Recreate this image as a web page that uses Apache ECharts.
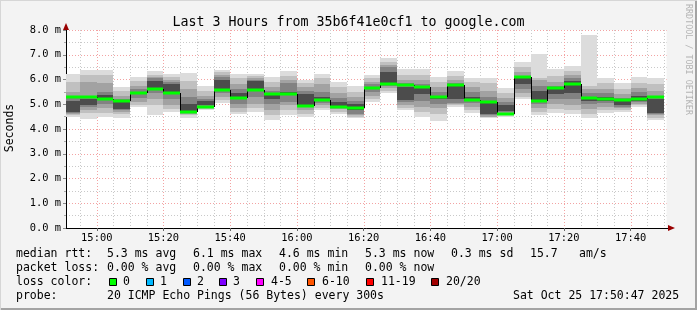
<!DOCTYPE html>
<html><head><meta charset="utf-8">
<script src="https://cdn.jsdelivr.net/npm/echarts@6/dist/echarts.min.js"></script>
<style>html,body{margin:0;padding:0;background:#f3f3f3}#c{width:697px;height:310px}</style>
</head><body><div id="c"></div>
<script>
// ---- data ----
const stepStarts = ["14:50","14:55","15:00","15:05","15:10","15:15","15:20","15:25","15:30","15:35","15:40","15:45",
  "15:50","15:55","16:00","16:05","16:10","16:15","16:20","16:25","16:30","16:35","16:40","16:45",
  "16:50","16:55","17:00","17:05","17:10","17:15","17:20","17:25","17:30","17:35","17:40","17:45"];
const medianRtt = [5.28,5.28,5.20,5.13,5.47,5.62,5.44,4.70,4.90,5.58,5.24,5.58,5.43,5.43,4.93,5.16,4.90,4.86,
  5.64,5.82,5.76,5.71,5.28,5.79,5.16,5.10,4.62,6.12,5.13,5.67,5.83,5.25,5.20,5.16,5.21,5.28];
// sorted ping samples per step (ms): min ... max
const smokePings = [
 [4.50,4.55,4.60,4.63,4.68,5.15,5.30,5.50,5.90,6.22],
 [4.39,4.63,4.75,4.90,4.95,5.22,5.35,5.90,6.18,6.38],
 [4.50,4.63,4.85,5.00,5.18,5.38,5.50,5.85,6.20,6.38],
 [4.43,4.60,4.70,4.78,4.82,5.10,5.20,5.35,5.55,5.68],
 [4.90,4.97,5.10,5.25,5.40,5.50,5.60,5.75,5.95,6.11],
 [4.57,4.95,5.20,5.45,5.65,5.95,6.05,6.10,6.20,6.33],
 [4.70,4.80,4.95,5.20,5.50,5.80,5.90,6.00,6.10,6.22],
 [4.43,4.55,4.62,4.68,4.72,5.00,5.30,5.60,5.95,6.27],
 [4.77,4.82,4.86,4.90,4.95,5.12,5.20,5.35,5.55,5.74],
 [5.05,5.17,5.30,5.45,5.62,6.00,6.10,6.20,6.30,6.38],
 [4.60,4.70,4.85,5.00,5.20,5.45,5.60,5.80,6.05,6.22],
 [4.70,4.85,5.00,5.30,5.60,5.95,6.00,6.07,6.15,6.22],
 [4.36,4.55,4.75,5.00,5.20,5.42,5.55,5.70,5.90,6.09],
 [4.57,4.75,4.95,5.10,5.40,5.48,5.85,6.00,6.15,6.33],
 [4.50,4.60,4.75,4.88,4.95,5.40,5.55,5.70,5.85,6.00],
 [4.77,4.85,4.95,5.05,5.15,5.30,5.50,5.80,6.05,6.22],
 [4.60,4.70,4.80,4.88,4.92,5.10,5.25,5.45,5.70,5.91],
 [4.43,4.50,4.55,4.60,4.75,5.00,5.15,5.30,5.50,5.74],
 [5.10,5.20,5.35,5.50,5.60,5.70,5.80,5.90,6.05,6.18],
 [5.44,5.55,5.65,5.75,5.85,6.30,6.50,6.60,6.70,6.86],
 [4.77,4.85,4.95,5.10,5.17,5.70,5.85,6.00,6.20,6.41],
 [4.50,4.70,4.90,5.15,5.40,5.68,5.80,6.00,6.20,6.41],
 [4.34,4.60,4.85,5.00,5.20,5.35,5.50,5.70,5.90,6.10],
 [4.90,4.95,5.00,5.05,5.20,5.75,5.85,6.00,6.15,6.35],
 [4.63,4.75,4.90,5.05,5.12,5.30,5.50,5.70,5.90,6.08],
 [4.43,4.47,4.50,4.55,4.60,5.05,5.30,5.55,5.85,6.08],
 [4.47,4.55,4.62,4.68,4.72,4.95,5.10,5.25,5.45,5.64],
 [5.20,5.30,5.45,5.60,5.80,6.05,6.15,6.30,6.50,6.72],
 [4.58,4.70,4.85,5.00,5.15,5.55,5.75,6.00,6.05,7.03],
 [4.66,4.80,5.00,5.20,5.40,5.62,5.75,5.90,6.15,6.41],
 [4.60,4.75,4.95,5.20,5.45,5.95,6.05,6.20,6.35,6.55],
 [4.43,4.60,4.80,5.00,5.15,5.30,5.45,5.60,5.75,7.80],
 [4.66,4.75,4.90,5.05,5.15,5.30,5.45,5.60,5.85,6.08],
 [4.70,4.78,4.85,4.90,4.95,5.12,5.25,5.40,5.60,5.87],
 [4.90,4.97,5.03,5.10,5.15,5.35,5.50,5.65,5.85,6.09],
 [4.36,4.45,4.55,4.60,4.65,5.20,5.35,5.55,5.80,6.05]
];
const xTickLabels = ["15:00","15:20","15:40","16:00","16:20","16:40","17:00","17:20","17:40"];
const yTicks = [0,1,2,3,4,5,6,7,8];
const rangeStart = "14:50:47", rangeEnd = "17:50:47";
const stepMinutes = 5;

// ---- helpers ----
function toMin(s){ const p=s.split(':').map(Number); return p[0]*60+p[1]+(p[2]||0)/60; }
const xMin = toMin(rangeStart), xMax = toMin(rangeEnd);
const tickVals = xTickLabels.map(toMin);
const bandColors = ['#dcdcdc','#c0c0c0','#a2a2a2','#828282','#4c4c4c'];

const smokeData = [];
stepStarts.forEach((s,i)=>{
  const t = toMin(s), p = smokePings[i];
  for (let k=0;k<5;k++) smokeData.push([t, t+stepMinutes, p[k], p[9-k], k]);
});
const medData = stepStarts.map((s,i)=>{
  const t=toMin(s); return [t, t+stepMinutes, medianRtt[i], i>0?medianRtt[i-1]:medianRtt[i]];
});
const gridData = [];
for (let t = Math.ceil(xMin/5)*5; t <= xMax; t += 5) gridData.push([t, (Math.round(t) % 20 === 0) ? 1 : 0]);

const chart = echarts.init(document.getElementById('c'), null, {renderer:'canvas'});
const mono = 'DejaVu Sans Mono';

function clampX(x, cs){ return Math.min(Math.max(x, cs.x), cs.x+cs.width); }

const option = {
  backgroundColor: '#f3f3f3',
  animation: false,
  title: { text: 'Last 3 Hours from 35b6f41e0cf1 to google.com', left: 'center', top: 11,
    textStyle: { fontFamily: mono, fontSize: 13.3, fontWeight: 'normal', color: '#000' } },
  grid: { left: 66, right: 30.4, top: 30, bottom: 82, show: true, backgroundColor: '#ffffff', borderWidth: 0 },
  xAxis: {
    type: 'value', min: xMin, max: xMax,
    axisLine: { show: true, lineStyle: { color: '#000', width: 1 } },
    axisTick: { show: true, customValues: tickVals, length: 3, lineStyle: { color: '#666' } },
    axisLabel: { customValues: tickVals, margin: 5, fontFamily: mono, fontSize: 10.4, color: '#000',
      formatter: v => xTickLabels[tickVals.findIndex(t=>Math.abs(t-v)<1e-6)] || '' },
    splitLine: { show: false }
  },
  yAxis: {
    type: 'value', min: 0, max: 8, interval: 1,
    axisLine: { show: true, lineStyle: { color: '#000', width: 1 } },
    axisTick: { show: true, length: 3, lineStyle: { color: '#888' } },
    minorTick: { show: true, splitNumber: 2, length: 2, lineStyle: { color: '#aaa' } },
    axisLabel: { margin: 5, fontFamily: mono, fontSize: 10.4, color: '#000', formatter: v => v.toFixed(1) + ' m' },
    splitLine: { show: true, lineStyle: { color: '#f3a3a3', type: [1,2], width: 1 } },
    minorSplitLine: { show: true, lineStyle: { color: '#c9c9c9', type: [1,2], width: 1 } }
  },
  series: [
    { type: 'custom', z: 1, silent: true, data: gridData, encode: { x: 0 },
      renderItem: (params, api) => {
        const cs = params.coordSys;
        const x = Math.round(api.coord([api.value(0), 0])[0]) + 0.5;
        const major = api.value(1) === 1;
        return { type: 'line', shape: { x1: x, y1: cs.y, x2: x, y2: cs.y + cs.height },
          style: { stroke: major ? '#f3a3a3' : '#c9c9c9', lineWidth: 1, lineDash: [1,2] } };
      } },
    { type: 'custom', z: 2, silent: true, data: smokeData, encode: { x: [0,1], y: [2,3] },
      renderItem: (params, api) => {
        const cs = params.coordSys;
        const x0 = Math.round(clampX(api.coord([api.value(0), 0])[0], cs));
        const x1 = Math.round(clampX(api.coord([api.value(1), 0])[0], cs));
        const yT = Math.round(api.coord([0, api.value(3)])[1]);
        const yB = Math.round(api.coord([0, api.value(2)])[1]);
        return { type: 'rect', shape: { x: x0, y: yT, width: x1 - x0, height: Math.max(1, yB - yT) },
          style: { fill: bandColors[api.value(4)] } };
      } },
    { type: 'custom', z: 3, silent: true, data: medData, encode: { x: [0,1], y: [2] },
      renderItem: (params, api) => {
        const cs = params.coordSys;
        const x0r = api.coord([api.value(0), 0])[0];
        const x0 = Math.round(clampX(x0r, cs));
        const x1 = Math.round(clampX(api.coord([api.value(1), 0])[0], cs));
        const y = api.coord([0, api.value(2)])[1];
        const yp = api.coord([0, api.value(3)])[1];
        const children = [];
        if (x0r >= cs.x) children.push({ type: 'line', shape: { x1: x0 + 0.5, y1: Math.round(yp), x2: x0 + 0.5, y2: Math.round(y) },
          style: { stroke: '#000', lineWidth: 1 } });
        children.push({ type: 'rect', shape: { x: x0, y: Math.round(y) - 1.5, width: x1 - x0, height: 3 },
          style: { fill: '#00ff00' } });
        return { type: 'group', children };
      } }
  ],
  graphic: [
    { type: 'polygon', shape: { points: [[63, 30], [69, 30], [66, 23]] }, style: { fill: '#990000' }, z: 10 },
    { type: 'polygon', shape: { points: [[668, 225], [668, 231], [675, 228]] }, style: { fill: '#990000' }, z: 10 },
    { type: 'line', shape: { x1: 666, y1: 228.5, x2: 669, y2: 228.5 }, style: { stroke: '#000', lineWidth: 1 } },
    { type: 'text', x: 10, y: 128, rotation: Math.PI/2,
      style: { text: 'Seconds', fontFamily: mono, fontSize: 11.5, fill: '#000', align: 'center', verticalAlign: 'middle' } },
    { type: 'text', x: 688, y: 4, rotation: -Math.PI/2,
      style: { text: 'RRDTOOL / TOBI OETIKER', fontFamily: mono, fontSize: 8.4, fill: '#b4b4b4', align: 'left', verticalAlign: 'middle' } },
    // legend texts
    ...[
      ['median rtt:', 16, 254], ['5.3 ms avg', 107, 254], ['6.1 ms max', 193, 254], ['4.6 ms min', 279, 254],
      ['5.3 ms now', 365, 254], ['0.3 ms sd', 451, 254], ['15.7', 530, 254], ['am/s', 579, 254],
      ['packet loss:', 16, 268], ['0.00 % avg', 107, 268], ['0.00 % max', 193, 268], ['0.00 % min', 279, 268], ['0.00 % now', 365, 268],
      ['loss color:', 16, 282], ['0', 123, 282], ['1', 160, 282], ['2', 197, 282], ['3', 233, 282], ['4-5', 271, 282],
      ['6-10', 322, 282], ['11-19', 381, 282], ['20/20', 446, 282],
      ['probe:', 16, 296], ['20 ICMP Echo Pings (56 Bytes) every 300s', 107, 296], ['Sat Oct 25 17:50:47 2025', 513, 296]
    ].map(([t, x, y]) => ({ type: 'text', x, y, style: { text: t, fontFamily: mono, fontSize: 11.5, fill: '#000', align: 'left', verticalAlign: 'middle' } })),
    ...[
      ['#00ff00', 109], ['#00b8ff', 146], ['#0059ff', 183], ['#7e00ff', 219], ['#ff00ff', 256], ['#ff5500', 307], ['#ff0000', 366], ['#a10000', 431]
    ].map(([c, x]) => ({ type: 'rect', shape: { x: x + 0.5, y: 278.5, width: 7, height: 7 }, style: { fill: c, stroke: '#000', lineWidth: 1 } })),
    // frame
    { type: 'rect', shape: { x: 0, y: 308, width: 697, height: 2 }, style: { fill: '#a3a3a3' } },
    { type: 'rect', shape: { x: 695, y: 0, width: 2, height: 310 }, style: { fill: '#a3a3a3' } },
    { type: 'rect', shape: { x: 0, y: 0, width: 697, height: 1 }, style: { fill: '#d6d6d6' } },
    { type: 'rect', shape: { x: 0, y: 0, width: 1, height: 310 }, style: { fill: '#d6d6d6' } }
  ]
};
chart.setOption(option);
</script></body></html>
